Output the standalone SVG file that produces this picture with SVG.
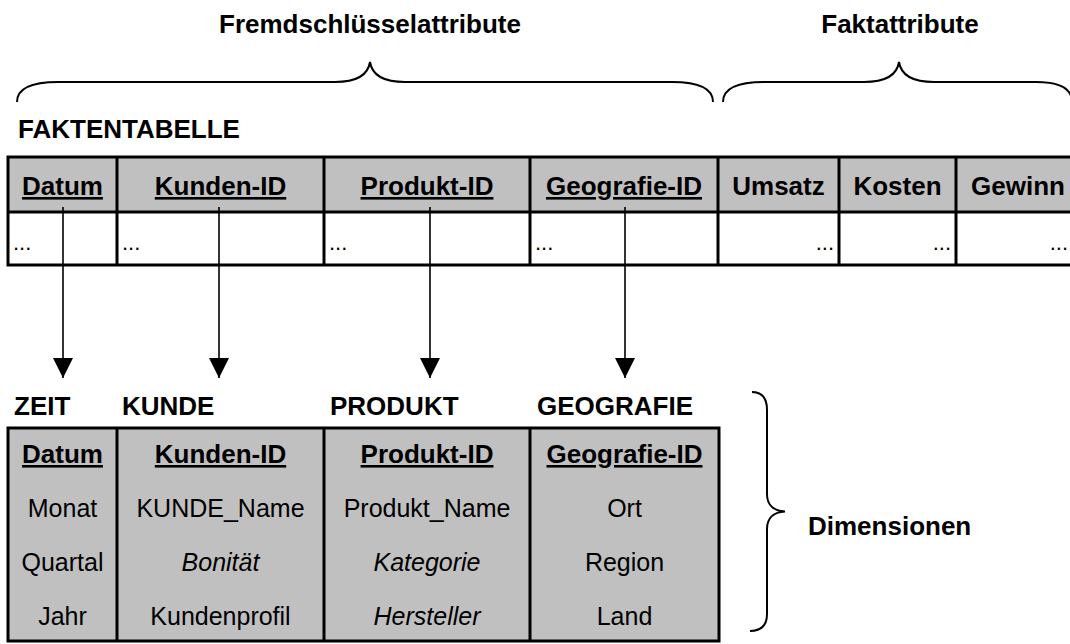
<svg xmlns="http://www.w3.org/2000/svg" width="1070" height="644" viewBox="0 0 1070 644">
  <defs>
    <style>
      text { font-family: "Liberation Sans", Arial, sans-serif; fill: #000; }
      .b { font-size: 26px; font-weight: bold; }
      .r { font-size: 25px; }
      .i { font-size: 25px; font-style: italic; }
      .u { text-decoration: underline; }
      .c { text-anchor: middle; }
      .e { text-anchor: end; }
      .dots { font-size: 22px; }
      .grid { stroke: #000; stroke-width: 3; fill: none; }
      .brace { stroke: #000; stroke-width: 2; fill: none; }
      .link { stroke: #000; stroke-width: 1.6; fill: none; marker-end: url(#head); }
    </style>
    <marker id="head" markerUnits="userSpaceOnUse" markerWidth="20" markerHeight="20" refX="20" refY="10" orient="auto" viewBox="0 0 20 20">
      <path d="M0,0 L20,10 L0,20 Z" fill="#000"/>
    </marker>
  </defs>

  <!-- group labels and braces over the fact table -->
  <g id="label-fremdschluessel">
    <text class="b c" x="370" y="33">Fremdschlüsselattribute</text>
    <path class="brace" d="M17,102 C17,89 30,82 58,82 L335,82 C357,82 368,75 370,62 C372,75 383,82 405,82 L672,82 C700,82 713,89 713,102"/>
  </g>
  <g id="label-faktattribute">
    <text class="b c" x="900" y="33">Faktattribute</text>
    <path class="brace" d="M723,102 C723,89 736,82 764,82 L864,82 C886,82 897,75 899,62 C901,75 912,82 934,82 L1036,82 C1060,82 1072,89 1072,102"/>
  </g>

  <!-- fact table -->
  <g id="faktentabelle">
    <text class="b" x="18" y="138">FAKTENTABELLE</text>
    <rect x="8" y="157" width="1080" height="55" fill="#c0c0c0"/>
    <rect x="8" y="212" width="1080" height="53" fill="#fff"/>
    <rect class="grid" x="8" y="157" width="1080" height="108"/>
    <line class="grid" x1="8" y1="212" x2="1080" y2="212"/>
    <line class="grid" x1="117" y1="157" x2="117" y2="265"/>
    <line class="grid" x1="324" y1="157" x2="324" y2="265"/>
    <line class="grid" x1="530" y1="157" x2="530" y2="265"/>
    <line class="grid" x1="718" y1="157" x2="718" y2="265"/>
    <line class="grid" x1="839" y1="157" x2="839" y2="265"/>
    <line class="grid" x1="956" y1="157" x2="956" y2="265"/>
    <text class="b c u" x="62.5" y="195">Datum</text>
    <text class="b c u" x="220.5" y="195">Kunden-ID</text>
    <text class="b c u" x="427" y="195">Produkt-ID</text>
    <text class="b c u" x="624" y="195">Geografie-ID</text>
    <text class="b c" x="778.5" y="195">Umsatz</text>
    <text class="b c" x="897.5" y="195">Kosten</text>
    <text class="b c" x="1018" y="195">Gewinn</text>
    <text class="dots" x="13" y="250">...</text>
    <text class="dots" x="122" y="250">...</text>
    <text class="dots" x="329" y="250">...</text>
    <text class="dots" x="535" y="250">...</text>
    <text class="dots e" x="834" y="250">...</text>
    <text class="dots e" x="951" y="250">...</text>
    <text class="dots e" x="1068" y="250">...</text>
  </g>

  <!-- foreign key references into the dimension tables -->
  <g id="connectors">
    <line class="link" x1="63" y1="207" x2="63" y2="378"/>
    <line class="link" x1="219" y1="207" x2="219" y2="378"/>
    <line class="link" x1="430" y1="207" x2="430" y2="378"/>
    <line class="link" x1="625" y1="207" x2="625" y2="378"/>
  </g>

  <!-- dimension tables -->
  <g id="dimensionen-tabelle">
    <rect x="8" y="428" width="711" height="213" fill="#c0c0c0"/>
    <rect class="grid" x="8" y="428" width="711" height="213"/>
    <line class="grid" x1="117" y1="428" x2="117" y2="641"/>
    <line class="grid" x1="324" y1="428" x2="324" y2="641"/>
    <line class="grid" x1="530" y1="428" x2="530" y2="641"/>
  </g>
  <g id="dim-zeit">
    <text class="b" x="14" y="415">ZEIT</text>
    <text class="b c u" x="62.5" y="463">Datum</text>
    <text class="r c" x="62.5" y="517">Monat</text>
    <text class="r c" x="62.5" y="571">Quartal</text>
    <text class="r c" x="62.5" y="625">Jahr</text>
  </g>
  <g id="dim-kunde">
    <text class="b" x="122" y="415">KUNDE</text>
    <text class="b c u" x="220.5" y="463">Kunden-ID</text>
    <text class="r c" x="220.5" y="517">KUNDE_Name</text>
    <text class="i c" x="220.5" y="571">Bonität</text>
    <text class="r c" x="220.5" y="625">Kundenprofil</text>
  </g>
  <g id="dim-produkt">
    <text class="b" x="330" y="415">PRODUKT</text>
    <text class="b c u" x="427" y="463">Produkt-ID</text>
    <text class="r c" x="427" y="517">Produkt_Name</text>
    <text class="i c" x="427" y="571">Kategorie</text>
    <text class="i c" x="427" y="625">Hersteller</text>
  </g>
  <g id="dim-geografie">
    <text class="b" x="537" y="415">GEOGRAFIE</text>
    <text class="b c u" x="624.5" y="463">Geografie-ID</text>
    <text class="r c" x="624.5" y="517">Ort</text>
    <text class="r c" x="624.5" y="571">Region</text>
    <text class="r c" x="624.5" y="625">Land</text>
  </g>

  <!-- brace grouping the dimensions -->
  <g id="label-dimensionen">
    <path class="brace" d="M752,392 C762,392 767,398 767,410 L767,494 C767,505 774,511 785,511.5 C774,512 767,518 767,529 L767,614 C767,625 762,631 750,631"/>
    <text class="b" x="808" y="535">Dimensionen</text>
  </g>
</svg>
